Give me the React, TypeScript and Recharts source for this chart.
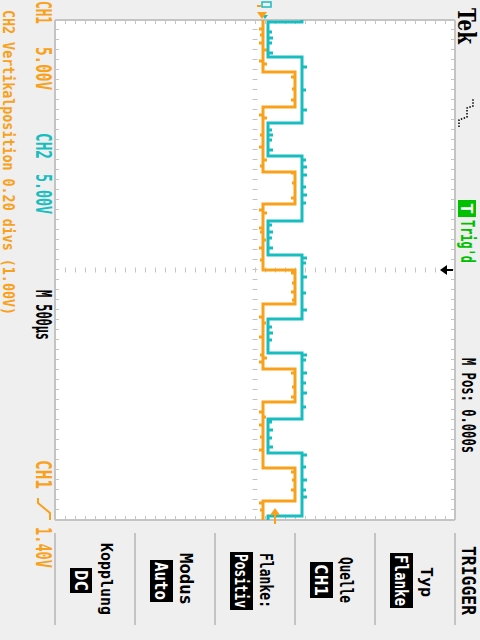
import { LineChart, Line, XAxis, YAxis, CartesianGrid, ReferenceLine, ReferenceDot } from 'recharts';

// Raster: 10 div x 500 µs (Zeit, von oben nach unten), 8 div x 5 V (Spannung, nach rechts)
const timeTicks = [0, 500, 1000, 1500, 2000, 2500, 3000, 3500, 4000, 4500, 5000];
const voltTicks = [-20, -15, -10, -5, 0, 5, 10, 15, 20];

// Flankenzeiten in µs
const ch1Rise = [520, 1520, 2500, 3490, 4480];
const ch1Fall = [870, 1840, 2840, 3820, 4810];
const ch2Rise = [370, 1360, 2350, 3330, 4330];
const ch2Fall = [20, 1030, 2010, 2990, 3990, 4960];

// Pegel [low, high] in V
const ch1Levels = [0.1, 3.3];
const ch2Levels = [0.3, 3.7];

// Lage des Nullpunkts auf dem Schirm in V
const ch1Pos = 0.7;
const ch2Pos = 1.0;
const ch1Trigger = 1.4;

// kurze Störspitzen [t in µs, Ausschlag in V]
const ch1Spikes = [
  [90, -0.4], [150, -0.3], [230, -0.4], [300, 0.4], [410, -0.4], [440, 0.4],
  [570, -0.4], [690, -0.3], [800, -0.4],
  [950, -0.4], [980, 0.4], [1150, -0.3], [1270, -0.4], [1400, 0.4], [1460, -0.3],
  [1530, -0.4], [1630, -0.3], [1780, -0.4],
  [1900, -0.4], [1930, 0.4], [2080, -0.4], [2120, -0.3], [2200, 0.3], [2280, -0.4], [2400, -0.3],
  [2530, -0.4], [2630, -0.3], [2720, -0.4], [2800, -0.3],
  [2970, -0.4], [3030, 0.3], [3170, -0.4], [3350, -0.3], [3380, 0.4], [3420, -0.4],
  [3530, -0.4], [3670, -0.3], [3770, -0.4],
  [3920, -0.4], [3970, 0.3], [4050, -0.4], [4170, -0.3], [4300, -0.4],
  [4520, -0.4], [4600, -0.3], [4700, -0.4],
  [4830, -0.4], [4900, -0.3],
];
const ch2Spikes = [
  [120, 0.4], [180, 0.5], [230, 0.4], [330, 0.5],
  [470, 0.5], [700, 0.4], [900, 0.5],
  [1100, 0.4], [1150, 0.5], [1200, 0.4], [1300, 0.5],
  [1400, 0.4], [1470, 0.5], [1550, 0.5], [1670, 0.4], [1750, 0.5], [1830, 0.4],
  [2050, 0.4], [2120, 0.5], [2180, 0.4], [2280, 0.5],
  [2380, 0.5], [2430, 0.4], [2570, 0.5], [2730, 0.4], [2900, 0.5],
  [3070, 0.4], [3130, 0.5], [3200, 0.4],
  [3350, 0.5], [3400, 0.4], [3530, 0.5], [3630, 0.4], [3730, 0.5], [3870, 0.4],
  [4020, 0.4], [4100, 0.5], [4180, 0.4], [4270, 0.5],
  [4350, 0.5], [4470, 0.4], [4600, 0.5], [4700, 0.4], [4770, 0.5],
];

const ORANGE = '#f9a11b';
const CYAN = '#17bdbf';
const GRID = '#c4c4c4';
const GREEN = '#00c000';
const mono = '"DejaVu Sans Mono", monospace';

type Pt = { t: number; v: number };

// Rechtecksignal aus Flanken und Spitzen zusammensetzen
function buildTrace(rise: number[], fall: number[], levels: number[], startHigh: boolean, spikes: number[][], pos: number): Pt[] {
  const events = [
    ...rise.map((t) => ({ t, dv: null as number | null })),
    ...fall.map((t) => ({ t, dv: null as number | null })),
    ...spikes.map(([t, dv]) => ({ t, dv })),
  ].sort((a, b) => a.t - b.t);
  let high = startHigh;
  const level = () => (high ? levels[1] : levels[0]) + pos;
  const pts: Pt[] = [{ t: 0, v: level() }];
  for (const e of events) {
    if (e.dv === null) {
      pts.push({ t: e.t, v: level() });
      high = !high;
      pts.push({ t: e.t, v: level() });
    } else {
      pts.push({ t: e.t, v: level() }, { t: e.t, v: level() + e.dv }, { t: e.t, v: level() });
    }
  }
  pts.push({ t: 5000, v: level() });
  return pts;
}

const ch1Data = buildTrace(ch1Rise, ch1Fall, ch1Levels, false, ch1Spikes, ch1Pos);
const ch2Data = buildTrace(ch2Rise, ch2Fall, ch2Levels, true, ch2Spikes, ch2Pos);

// um 90° gedrehter Text, x = Grundlinie
function RotText({ x, y, len, cap, color = '#000', text, weight = 'bold', family = mono }: any) {
  return (
    <text
      transform={`translate(${x},${y}) rotate(90)`}
      fontSize={cap / 0.73}
      fill={color}
      fontFamily={family}
      fontWeight={weight}
      textLength={len}
      lengthAdjust="spacingAndGlyphs"
    >
      {text}
    </text>
  );
}

function InvBox({ x1, x2, y1, y2, text }: any) {
  const cap = 13;
  return (
    <g>
      <rect x={x1} y={y1} width={x2 - x1} height={y2 - y1} fill="#000" />
      <RotText x={x1 + (x2 - x1 - cap) / 2} y={y1 + 2} len={y2 - y1 - 4} cap={cap} color="#fff" text={text} />
    </g>
  );
}

const TrigLevelMark = ({ cx, cy }: any) => {
  const x = cx - 1;
  return (
    <g fill={ORANGE} stroke="none">
      <polygon points={`${x},${cy - 12} ${x - 5},${cy - 5} ${x + 5},${cy - 5}`} />
      <rect x={x - 1} y={cy - 6} width={2} height={10} />
    </g>
  );
};

const TrigPosMark = ({ cx, cy }: any) => (
  <g fill="#000">
    <polygon points={`${cx - 15},${cy} ${cx - 8},${cy - 5} ${cx - 8},${cy + 5}`} />
    <rect x={cx - 9} y={cy - 1} width={7} height={2} />
  </g>
);

const Ch1Ground = ({ cx, cy }: any) => (
  <g>
    <polygon points={`${cx},${cy - 1} ${cx - 5},${cy - 8} ${cx + 5},${cy - 8}`} fill={ORANGE} />
    <rect x={cx - 5} y={cy - 15} width={4} height={2} fill={ORANGE} />
  </g>
);

const Ch2Ground = ({ cx, cy }: any) => (
  <g>
    <polygon points={`${cx},${cy - 1} ${cx - 3},${cy - 5} ${cx + 3},${cy - 5}`} fill={CYAN} />
    <path d={`M${cx - 3},${cy - 18} L${cx + 6},${cy - 18} L${cx + 6},${cy - 13} L${cx - 3},${cy - 13} Z`} fill="none" stroke={CYAN} strokeWidth={1.5} />
  </g>
);

function Overlay() {
  const seps = [55, 135, 215, 295, 375, 455];
  return (
    <svg width={480} height={640} style={{ position: 'absolute', left: 0, top: 0, pointerEvents: 'none' }}>
      {/* linke Statuszeilen */}
      <RotText x={36} y={1} len={23} cap={16} color={ORANGE} text="CH1" />
      <RotText x={36} y={47} len={43} cap={16} color={ORANGE} text="5.00V" />
      <RotText x={36} y={133} len={26} cap={16} color={CYAN} text="CH2" />
      <RotText x={36} y={174} len={40} cap={16} color={CYAN} text="5.00V" />
      <RotText x={36} y={290} len={50} cap={16} text="M 500µs" />
      <RotText x={36} y={460} len={29} cap={16} color={ORANGE} text="CH1" />
      <path d="M38,498 L38,503 L50,513 L50,520" fill="none" stroke={ORANGE} strokeWidth={2} />
      <RotText x={36} y={527} len={41} cap={16} color={ORANGE} text="1.40V" />
      <RotText x={3} y={10} len={305} cap={12} color={ORANGE} text="CH2 Vertikalposition 0.20 divs (1.00V)" />

      {/* rechte Kopfzeile */}
      <RotText x={458} y={8} len={36} cap={17} family='"DejaVu Serif", serif' text="Tek" />
      <path d="M459,127 L459,120 L467,117 L467,108 L473,106 L473,98" fill="none" stroke="#000" strokeWidth={1.5} strokeDasharray="1.5 1.5" />
      <rect x={458} y={200} width={18} height={17} fill={GREEN} />
      <RotText x={461} y={203} len={11} cap={12} color="#fff" text="T" />
      <RotText x={461} y={220} len={43} cap={14} color={GREEN} text="Trig'd" />
      <RotText x={462} y={358} len={95} cap={14} text="M Pos: 0.000s" />
      <RotText x={462} y={546} len={69} cap={14} text="TRIGGER" />

      {/* Menü */}
      {seps.map((x) => (
        <line key={x} x1={x} x2={x} y1={533} y2={625} stroke={GRID} strokeWidth={2} />
      ))}
      <RotText x={101} y={543} len={72} cap={12} text="Kopplung" />
      <InvBox x1={70} x2={92} y1={568} y2={593} text="DC" />
      <RotText x={180} y={553} len={52} cap={13} text="Modus" />
      <InvBox x1={150} x2={173} y1={560} y2={602} text="Auto" />
      <RotText x={260} y={553} len={55} cap={13} text="Flanke:" />
      <InvBox x1={230} x2={253} y1={552} y2={610} text="Positiv" />
      <RotText x={340} y={557} len={46} cap={13} text="Quelle" />
      <InvBox x1={310} x2={333} y1={562} y2={598} text="CH1" />
      <RotText x={421} y={567} len={30} cap={12} text="Typ" />
      <InvBox x1={390} x2={413} y1={553} y2={608} text="Flanke" />
    </svg>
  );
}

export default function App() {
  return (
    <div style={{ position: 'fixed', left: 0, top: 0, width: 480, height: 640, background: '#efefef' }}>
      <LineChart layout="vertical" width={480} height={640} margin={{ top: 20, right: 25, bottom: 120, left: 55 }}>
        <XAxis type="number" domain={[-20, 20]} ticks={voltTicks} allowDataOverflow mirror tick={false} tickLine={false} axisLine={false} height={0} />
        <YAxis type="number" dataKey="t" domain={[0, 5000]} ticks={timeTicks} allowDataOverflow mirror tick={false} tickLine={false} axisLine={false} width={0} />
        <CartesianGrid
          fill="#ffffff"
          stroke={GRID}
          strokeWidth={2}
          strokeDasharray="2 8"
          horizontalValues={timeTicks}
          verticalValues={voltTicks}
        />
        {/* Mittelachsen mit Teilstrichen */}
        <ReferenceLine x={0} stroke={GRID} strokeWidth={5} strokeDasharray="1 9" />
        <ReferenceLine y={2500} stroke={GRID} strokeWidth={5} strokeDasharray="1 9" />
        {/* Rahmen mit Teilstrichen */}
        <ReferenceLine y={20} stroke={GRID} strokeWidth={4} strokeDasharray="1 9" />
        <ReferenceLine y={4980} stroke={GRID} strokeWidth={4} strokeDasharray="1 9" />
        <ReferenceLine x={-19.8} stroke={GRID} strokeWidth={4} strokeDasharray="1 9" />
        <ReferenceLine x={19.8} stroke={GRID} strokeWidth={4} strokeDasharray="1 9" />
        <ReferenceLine x={-20} stroke={GRID} strokeWidth={2} />
        <ReferenceLine x={20} stroke={GRID} strokeWidth={2} />
        <ReferenceLine y={0} stroke={GRID} strokeWidth={2} />
        <ReferenceLine y={5000} stroke={GRID} strokeWidth={2} />

        <Line data={ch1Data} dataKey="v" type="linear" stroke={ORANGE} strokeWidth={3} dot={false} activeDot={false} isAnimationActive={false} />
        <Line data={ch2Data} dataKey="v" type="linear" stroke={CYAN} strokeWidth={3} dot={false} activeDot={false} isAnimationActive={false} />

        <ReferenceDot x={ch2Pos} y={0} r={0} ifOverflow="visible" shape={Ch2Ground} />
        <ReferenceDot x={ch1Pos} y={0} r={0} ifOverflow="visible" shape={Ch1Ground} />
        <ReferenceDot x={ch1Pos + ch1Trigger} y={5000} r={0} ifOverflow="visible" shape={TrigLevelMark} />
        <ReferenceDot x={20} y={2500} r={0} ifOverflow="visible" shape={TrigPosMark} />
      </LineChart>
      <Overlay />
    </div>
  );
}
